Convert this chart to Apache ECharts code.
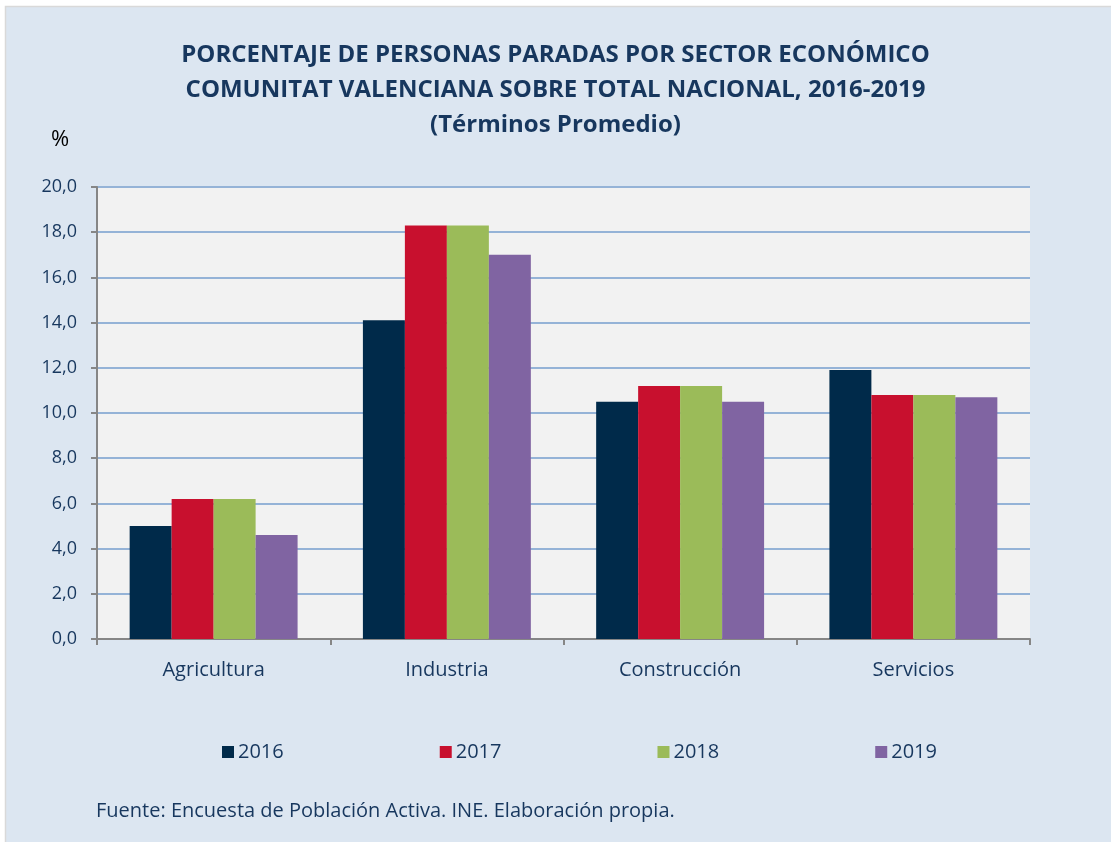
<!DOCTYPE html>
<html>
<head>
<meta charset="utf-8">
<script src="https://cdn.jsdelivr.net/npm/echarts@6/dist/echarts.min.js"></script>
<style>
  html, body { margin: 0; padding: 0; background: #fff; }
  #chart { width: 1111px; height: 842px; }
</style>
</head>
<body>
<div id="chart"></div>
<script>
// categorías y valores (%)
var sectores = ['Agricultura', 'Industria', 'Construcción', 'Servicios'];
var anios = ['2016', '2017', '2018', '2019'];
var v2016 = [5.0, 14.1, 10.5, 11.9];
var v2017 = [6.2, 18.3, 11.2, 10.8];
var v2018 = [6.2, 18.3, 11.2, 10.8];
var v2019 = [4.6, 17.0, 10.5, 10.7];
var colores = ['#002a4a', '#c8102e', '#9bbb59', '#8064a2'];

var fuente = '"Open Sans", "Noto Sans", sans-serif';
var azulTexto = '#17375e';

var myChart = echarts.init(document.getElementById('chart'));

var series = [v2016, v2017, v2018, v2019].map(function (d, i) {
  return {
    name: anios[i],
    type: 'bar',
    data: d,
    barGap: '0%',
    barCategoryGap: '28%',
    itemStyle: { color: colores[i] }
  };
});

var option = {
  backgroundColor: '#fff',
  textStyle: { fontFamily: fuente },
  graphic: [
    {
      type: 'rect',
      z: -10,
      shape: { x: 5.5, y: 6.5, width: 1110, height: 840 },
      style: { fill: '#dce6f1', stroke: '#d9d9d9', lineWidth: 1.5 }
    },
    {
      type: 'text', left: 51, top: 129,
      style: { text: '%', fill: '#000', font: '22px ' + fuente }
    },
    {
      type: 'text', left: 96, top: 801,
      style: { text: 'Fuente: Encuesta de Población Activa. INE. Elaboración propia.', fill: azulTexto, font: '20px ' + fuente }
    }
  ],
  title: {
    text: 'PORCENTAJE DE PERSONAS PARADAS POR SECTOR ECONÓMICO\nCOMUNITAT VALENCIANA SOBRE TOTAL NACIONAL, 2016-2019\n(Términos Promedio)',
    left: 'center',
    top: 33,
    textStyle: { color: azulTexto, fontSize: 24, fontWeight: 'bold', lineHeight: 35, fontFamily: fuente }
  },
  legend: {
    data: anios,
    left: 217,
    top: 737,
    itemWidth: 12,
    itemHeight: 12,
    itemGap: 156,
    icon: 'rect',
    textStyle: { color: azulTexto, fontSize: 20, padding: [0, 0, 0, -1] }
  },
  grid: { left: 97, right: 81, top: 187, bottom: 203, backgroundColor: '#f2f2f2', show: true, borderWidth: 0 },
  xAxis: {
    type: 'category',
    data: sectores,
    axisLine: { lineStyle: { color: '#868686', width: 2 } },
    axisTick: { show: true, length: 6, lineStyle: { color: '#868686', width: 2 } },
    axisLabel: { color: azulTexto, fontSize: 20, margin: 21 }
  },
  yAxis: {
    type: 'value',
    min: 0,
    max: 20,
    interval: 2,
    axisLine: { show: true, lineStyle: { color: '#868686', width: 2 } },
    axisTick: { show: true, length: 6, lineStyle: { color: '#868686', width: 2 } },
    axisLabel: {
      color: azulTexto, fontSize: 18, margin: 20,
      formatter: function (v) { return v.toFixed(1).replace('.', ','); }
    },
    splitLine: { lineStyle: { color: '#95b3d7', width: 2 } }
  },
  series: series
};

myChart.setOption(option);
</script>
</body>
</html>
